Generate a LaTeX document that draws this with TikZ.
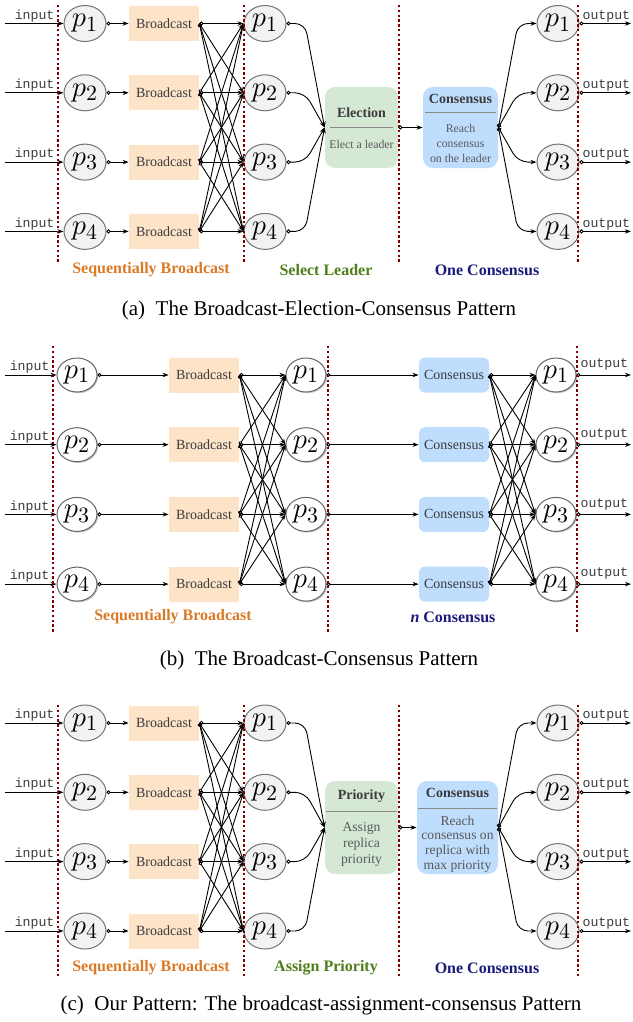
\documentclass[tikz,border=0pt]{standalone}
\usepackage[no-math]{fontspec}
\setmainfont{Liberation Serif}
\setmonofont{Liberation Mono}
\usetikzlibrary{arrows.meta,shadows,shapes.geometric}
\definecolor{dotred}{HTML}{7F0000}
\definecolor{bcfill}{HTML}{FDE3C8}
\definecolor{grfill}{HTML}{D5E8D4}
\definecolor{blfill}{HTML}{BFDDFD}
\definecolor{orlab}{HTML}{DB7A26}
\definecolor{grlab}{HTML}{4E7F1C}
\definecolor{navlab}{HTML}{1A1A7A}
\definecolor{pfill}{HTML}{F2F2F2}
\definecolor{txtgray}{HTML}{3C3C3C}
\definecolor{sepgray}{HTML}{8A8A8A}
\tikzset{
  pnode/.style={ellipse, draw=black!55, fill=pfill, line width=0.5pt,
    minimum width=21pt, minimum height=18pt, inner sep=0pt,
    font=\fontsize{15}{15}\selectfont},
  pnodeb/.style={pnode, fill=white, draw=black!60, minimum width=20pt, minimum height=17pt,
    drop shadow={shadow xshift=0.6pt, shadow yshift=-0.6pt, fill=black!45}},
  bcast/.style={rectangle, fill=bcfill, minimum width=35pt, minimum height=17.5pt,
    inner sep=0pt, text=txtgray, font=\fontsize{7}{8}\selectfont},
  cbox/.style={rectangle, rounded corners=3pt, fill=blfill, minimum width=35pt,
    minimum height=17.5pt, inner sep=0pt, text=txtgray, font=\fontsize{7}{8}\selectfont},
  bigbox/.style={rectangle, rounded corners=5pt, inner sep=0pt},
  boxtitle/.style={font=\bfseries\fontsize{7}{8}\selectfont, text=txtgray, inner sep=0pt},
  boxbody/.style={text=txtgray!85, inner sep=0pt, align=center},
  sepline/.style={draw=sepgray, line width=0.5pt},
  conn/.style={line width=0.45pt, {Circle[open,length=2pt]}-{Stealth[length=3pt,width=2.2pt]}},
  inarr/.style={line width=0.45pt, -{Stealth[length=3pt,width=2.2pt]}},
  divider/.style={draw=dotred, line width=1.3pt, dash pattern=on 1.2pt off 1.2pt},
  lab/.style={font=\bfseries\fontsize{8}{9}\selectfont, inner sep=0pt},
  iolab/.style={font=\ttfamily\fontsize{6.6}{7}\selectfont, text=txtgray, inner sep=0.6pt},
  captxt/.style={font=\fontsize{10.5}{12}\selectfont, inner sep=0pt}
}
\begin{document}
\begin{tikzpicture}[x=0.5pt,y=-0.5pt]
\useasboundingbox (0,0) rectangle (632,1022);

% ================= Panel (a) =================
\foreach \i/\y in {1/23.5,2/92.8,3/162.1,4/231.4} {
  \node[pnode] (a-p\i) at (85,\y) {$p_\i$};
  \node[bcast] (a-b\i) at (164,\y) {Broadcast};
  \node[pnode] (a-q\i) at (265,\y) {$p_\i$};
  \node[pnode] (a-r\i) at (558,\y) {$p_\i$};
  \coordinate (a-in\i) at (5,\y);
  \coordinate (a-out\i) at (631,\y);
  \node[iolab, anchor=south east] (a-il\i) at (56,\y) {input};
  \node[iolab, anchor=south west] (a-ol\i) at (581,\y) {output};
}
\node[bigbox, fill=grfill, minimum width=36.5pt, minimum height=40.5pt] (a-el) at (361.5,127.5) {};
\node[boxtitle] (a-elt) at (361.5,113) {Election};
\draw[sepline] (330,127.5) -- (393,127.5);
\node[boxbody, font=\fontsize{5.9}{7}\selectfont] (a-elb) at (361.5,144) {Elect a leader};
\node[bigbox, fill=blfill, minimum width=37.5pt, minimum height=40.5pt] (a-co) at (460.5,127.5) {};
\node[boxtitle] (a-cot) at (460.5,98.5) {Consensus};
\draw[sepline] (425,113) -- (496,113);
\node[boxbody, font=\fontsize{5.9}{7.3}\selectfont] (a-cob) at (460.5,143.5) {Reach\\consensus\\on the leader};
\foreach \i/\y in {1/23.5,2/92.8,3/162.1,4/231.4} {
  \draw[inarr] (a-in\i) -- (a-p\i.west);
  \draw[conn] (a-p\i.east) -- (a-b\i.west);
  \foreach \j in {1,...,4} { \draw[conn] (a-b\i.east) -- (a-q\j.west); }
  \draw[conn, rounded corners=5pt] (a-q\i.east) -- (305,\y) -- (a-el.west);
  \draw[conn, rounded corners=5pt] (a-co.east) -- (518,\y) -- (a-r\i.west);
  \draw[conn] (a-r\i.east) -- (a-out\i);
}
\draw[conn] (a-el.east) -- (a-co.west);
\foreach \x in {58,244,399,578} { \draw[divider] (\x,5) -- (\x,264); }
\node[lab, text=orlab] (a-l1) at (151,270) {Sequentially Broadcast};
\node[lab, text=grlab] (a-l2) at (326,270) {Select Leader};
\node[lab, text=navlab] (a-l3) at (487,270) {One Consensus};
\node[captxt] (a-cap) at (319,310) {(a)\enspace The Broadcast-Election-Consensus Pattern};

% ================= Panel (b) =================
\foreach \i/\y in {1/375,2/444.7,3/514.4,4/584.1} {
  \node[pnodeb] (b-p\i) at (77,\y) {$p_\i$};
  \node[bcast] (b-b\i) at (204,\y) {Broadcast};
  \node[pnodeb] (b-q\i) at (306,\y) {$p_\i$};
  \node[cbox] (b-c\i) at (454,\y) {Consensus};
  \node[pnodeb] (b-r\i) at (556,\y) {$p_\i$};
  \coordinate (b-in\i) at (5,\y);
  \coordinate (b-out\i) at (631,\y);
  \node[iolab, anchor=south east] (b-il\i) at (51,\y) {input};
  \node[iolab, anchor=south west] (b-ol\i) at (579,\y-3) {output};
}
\foreach \i/\y in {1/375,2/444.7,3/514.4,4/584.1} {
  \draw[inarr] (b-in\i) -- (b-p\i.west);
  \draw[conn] (b-p\i.east) -- (b-b\i.west);
  \foreach \j in {1,...,4} { \draw[conn] (b-b\i.east) -- (b-q\j.west); }
  \draw[conn] (b-q\i.east) -- (b-c\i.west);
  \foreach \j in {1,...,4} { \draw[conn] (b-c\i.east) -- (b-r\j.west); }
  \draw[conn] (b-r\i.east) -- (b-out\i);
}
\foreach \x in {53,328,577} { \draw[divider] (\x,346) -- (\x,632); }
\node[lab, text=orlab] (b-l1) at (173,617) {Sequentially Broadcast};
\node[lab, text=navlab] (b-l2) at (453,617) {\textit{n} Consensus};
\node[captxt] (b-cap) at (319,660) {(b)\enspace The Broadcast-Consensus Pattern};

% ================= Panel (c) =================
\foreach \i/\y in {1/723,2/792.3,3/861.6,4/931} {
  \node[pnode] (c-p\i) at (85,\y) {$p_\i$};
  \node[bcast] (c-b\i) at (164,\y) {Broadcast};
  \node[pnode] (c-q\i) at (265,\y) {$p_\i$};
  \node[pnode] (c-r\i) at (558,\y) {$p_\i$};
  \coordinate (c-in\i) at (5,\y);
  \coordinate (c-out\i) at (631,\y);
  \node[iolab, anchor=south east] (c-il\i) at (56,\y) {input};
  \node[iolab, anchor=south west] (c-ol\i) at (581,\y) {output};
}
\node[bigbox, fill=grfill, minimum width=36.5pt, minimum height=46.5pt] (c-pr) at (361.5,827.5) {};
\node[boxtitle] (c-prt) at (361.5,796) {Priority};
\draw[sepline] (326,811) -- (397,811);
\node[boxbody, font=\fontsize{6.8}{8}\selectfont] (c-prb) at (361.5,844) {Assign\\replica\\priority};
\node[bigbox, fill=blfill, minimum width=40.5pt, minimum height=46.5pt] (c-co) at (457.5,827.5) {};
\node[boxtitle] (c-cot) at (457.5,793) {Consensus};
\draw[sepline] (418,808) -- (497,808);
\node[boxbody, font=\fontsize{6.8}{7.3}\selectfont] (c-cob) at (457.5,844) {Reach\\consensus on\\replica with\\max priority};
\foreach \i/\y in {1/723,2/792.3,3/861.6,4/931} {
  \draw[inarr] (c-in\i) -- (c-p\i.west);
  \draw[conn] (c-p\i.east) -- (c-b\i.west);
  \foreach \j in {1,...,4} { \draw[conn] (c-b\i.east) -- (c-q\j.west); }
  \draw[conn, rounded corners=5pt] (c-q\i.east) -- (305,\y) -- (c-pr.west);
  \draw[conn, rounded corners=5pt] (c-co.east) -- (518,\y) -- (c-r\i.west);
  \draw[conn] (c-r\i.east) -- (c-out\i);
}
\draw[conn] (c-pr.east) -- (c-co.west);
\foreach \x in {58,244,399,578} { \draw[divider] (\x,705) -- (\x,976); }
\node[lab, text=orlab] (c-l1) at (151,968) {Sequentially Broadcast};
\node[lab, text=grlab] (c-l2) at (326,968) {Assign Priority};
\node[lab, text=navlab] (c-l3) at (487,968) {One Consensus};
\node[captxt] (c-cap) at (321,1005) {(c)\enspace Our Pattern: The broadcast-assignment-consensus Pattern};
\end{tikzpicture}
\end{document}
